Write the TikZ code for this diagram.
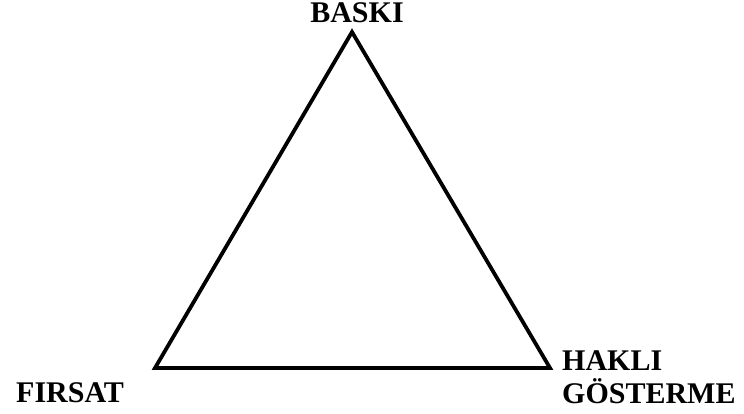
\documentclass[tikz,border=0pt]{standalone}
\usepackage{fontspec}
\setmainfont{Liberation Serif}
\begin{document}
\begin{tikzpicture}[x=1pt,y=-1pt,
  lbl/.style={font=\fontsize{30}{30}\selectfont\bfseries, inner sep=0pt, anchor=base west}]
\useasboundingbox (0,0) rectangle (744,414);
\coordinate (top) at (352,32);
\coordinate (bl) at (155,368);
\coordinate (br) at (550,368);
\draw[line width=3.8pt, line join=miter] (top) -- (bl) -- (br) -- cycle;
\node[lbl, anchor=base] (baski) at (357,23) {BASKI};
\node[lbl] (firsat) at (16,402) {FIRSAT};
\node[lbl] (hakli) at (562,370) {HAKLI};
\node[lbl] (gosterme) at (562,403) {GÖSTERME};
\end{tikzpicture}
\end{document}
